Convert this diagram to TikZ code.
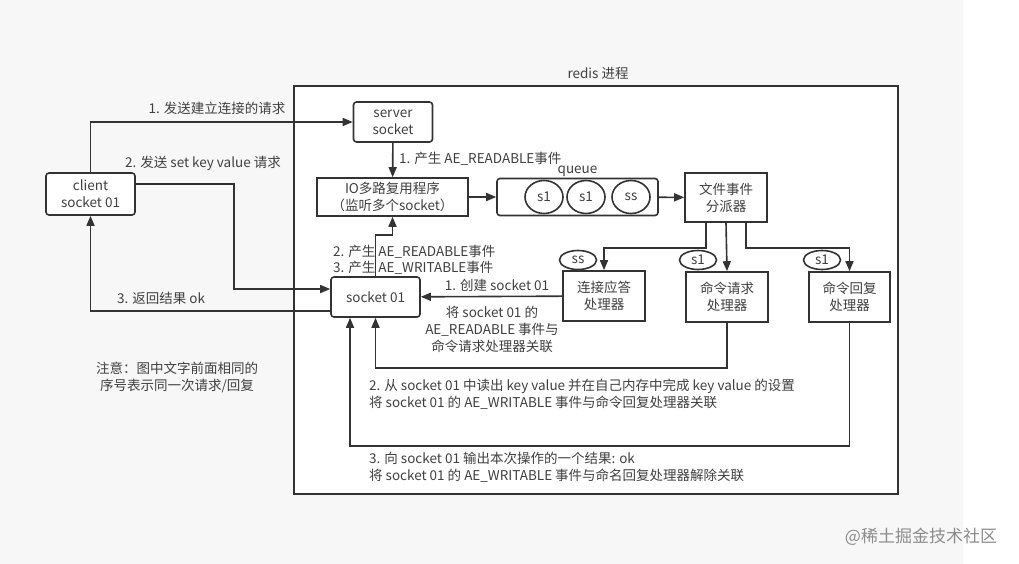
\documentclass[tikz,border=0pt]{standalone}
\usepackage{fontspec}
\setmainfont{Noto Sans CJK SC}
\usetikzlibrary{arrows.meta,shapes.geometric}

\begin{document}
\begin{tikzpicture}[x=1pt,y=-1pt,>={Triangle[length=10pt,width=8pt]},
    font=\fontsize{13.5}{17}\selectfont,
    line/.style={draw=black!80,line width=1.6pt},
    box/.style={line,fill=white,align=center,inner sep=0pt,text=black!75},
    rbox/.style={box,rounded corners=3pt},
    tag/.style={line,ellipse,inner sep=0pt,minimum width=37pt,minimum height=19pt,text=black!75},
    lab/.style={text=black!75,inner sep=0pt}]
  \useasboundingbox (0,0) rectangle (1019,564);
  \fill[black!3] (0,0) rectangle (963,564);
  \fill[white] (963,0) rectangle (1019,564);

  \node[box,minimum width=604pt,minimum height=408pt] (redis) at (596,290) {};
  \node[lab] at (598,73) {redis 进程};

  \node[rbox,minimum width=89pt,minimum height=42pt] (client) at (90.5,194) {client\\socket 01};
  \node[rbox,minimum width=79pt,minimum height=40pt] (server) at (393,122) {server\\socket};
  \node[box,minimum width=151pt,minimum height=38pt] (io) at (392.5,197) {IO多路复用程序\\（监听多个socket）};
  \node[rbox,minimum width=161pt,minimum height=37pt] (queue) at (577.5,197) {};
  \node[lab,above=1pt] at (queue.north) {queue};
  \foreach \n/\x/\t in {q1/544/s1,q2/586/s1,q3/631/ss}
    \node[tag,minimum width=38pt,minimum height=33pt] (\n) at (\x,197) {\t};
  \node[box,minimum width=82pt,minimum height=49pt] (disp) at (726,197.5) {文件事件\\分派器};
  \node[box,minimum width=82pt,minimum height=50pt] (conn) at (604,296) {连接应答\\处理器};
  \node[box,minimum width=82pt,minimum height=50pt] (req) at (727,297) {命令请求\\处理器};
  \node[box,minimum width=81pt,minimum height=50pt] (rep) at (849.5,297) {命令回复\\处理器};
  \node[rbox,minimum width=89pt,minimum height=40pt] (sock) at (375.5,297) {socket 01};
  \foreach \n/\x/\t in {t1/578/ss,t2/698/s1,t3/822/s1}
    \node[tag] (\n) at (\x,260) {\t};

  \draw[line,->] (client.north) |- (server.west);
  \draw[line,->] ([yshift=10pt]client.east) -- ++(98,0) |- ([yshift=8pt]sock.west);
  \draw[line,->] ([yshift=-14pt]sock.west) -| (client.south);
  \draw[line,->] (server) -- (io);
  \draw[line,->] (sock.north) -- ++(0,-41) -| (io.south);
  \draw[line,->] (io) -- (queue);
  \draw[line,->] (queue) -- (disp);
  \draw[line,->] ([xshift=-20pt]disp.south) -- ++(0,25) -| (conn.north);
  \draw[line,->] (disp.south) -- (req.north);
  \draw[line,->] ([xshift=20pt]disp.south) -- ++(0,25) -| (rep.north);
  \draw[line,->] (conn) -- (sock);
  \draw[line,->] (req.south) -- ++(0,45) -| (sock.south);
  \draw[line,->] (rep.south) -- ++(0,123) -| ([xshift=-25.5pt]sock.south);

  \node[lab] at (217,108) {1. 发送建立连接的请求};
  \node[lab] at (203,163) {2. 发送 set key value 请求};
  \node[lab] at (161,298) {3. 返回结果 ok};
  \node[lab,anchor=west] at (399,159) {1. 产生 AE\_READABLE事件};
  \node[lab,anchor=west] at (333,252) {2. 产生 AE\_READABLE事件};
  \node[lab,anchor=west] at (333,268) {3. 产生 AE\_WRITABLE事件};
  \node[lab] at (497,285) {1. 创建 socket 01};
  \node[lab,align=center] at (492,329) {将 socket 01 的\\AE\_READABLE 事件与\\命令请求处理器关联};
  \node[lab,anchor=west,align=left] at (369,394) {2. 从 socket 01 中读出 key value 并在自己内存中完成 key value 的设置\\将 socket 01 的 AE\_WRITABLE 事件与命令回复处理器关联};
  \node[lab,anchor=west,align=left] at (369,467) {3. 向 socket 01 输出本次操作的一个结果: ok\\将 socket 01 的 AE\_WRITABLE 事件与命名回复处理器解除关联};
  \node[lab,align=center] at (177,377) {注意：图中文字前面相同的\\序号表示同一次请求/回复};
  \node[lab,text=black!45,font=\fontsize{17}{20}\selectfont] at (921,537) {@稀土掘金技术社区};
\end{tikzpicture}
\end{document}
